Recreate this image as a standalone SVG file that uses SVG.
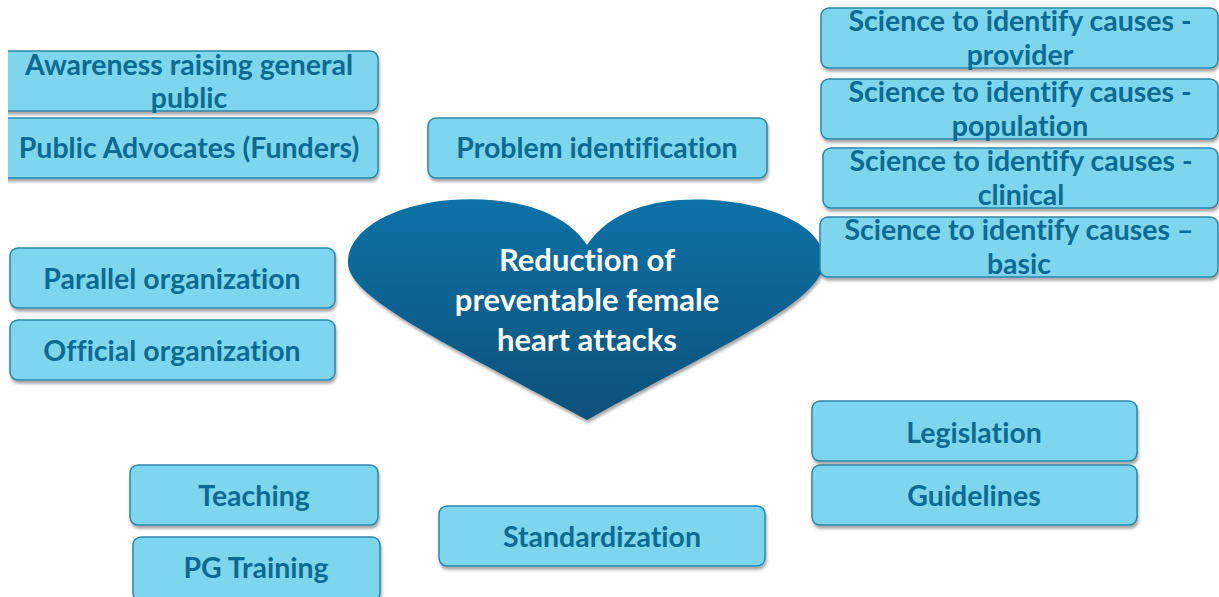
<svg xmlns="http://www.w3.org/2000/svg" width="1219" height="597" viewBox="0 0 1219 597">
  <defs>
    <linearGradient id="heartFill" x1="0" y1="0" x2="0" y2="1">
      <stop offset="0" stop-color="#0a72a6"/>
      <stop offset="1" stop-color="#08507a"/>
    </linearGradient>
    <filter id="shadow" x="-5%" y="-10%" width="110%" height="130%">
      <feDropShadow dx="1" dy="3" stdDeviation="1.5" flood-color="#000" flood-opacity="0.35"/>
    </filter>
    <clipPath id="page">
      <rect x="8" y="0" width="1211" height="597"/>
    </clipPath>
  </defs>
  <style>
    .box { fill: #7dd6ee; stroke: #2b86a8; stroke-width: 1.5; filter: url(#shadow); }
    .lbl { font-family: Lato, "Open Sans", sans-serif; font-weight: bold; font-size: 28.5px; fill: #0f6a90; text-anchor: middle; font-variant-ligatures: none; }
    .hlbl { font-family: Lato, "Open Sans", sans-serif; font-weight: bold; font-size: 31px; fill: #ffffff; text-anchor: middle; font-variant-ligatures: none; }
  </style>
  <rect width="1219" height="597" fill="#ffffff"/>

  <g id="connectors"/>

  <g id="center-heart">
    <path d="M587,245 C562,207 505,196 450,200 C390,205 346,232 348,264 C351,300 450,345 587,420 C722,345 822,302 824,262 C826,230 778,204 712,200 C660,197 612,208 587,245 Z" fill="url(#heartFill)" filter="url(#shadow)"/>
    <text class="hlbl" x="587" y="271">Reduction of</text>
    <text class="hlbl" x="587" y="311">preventable female</text>
    <text class="hlbl" x="587" y="351">heart attacks</text>
  </g>

  <g id="awareness" clip-path="url(#page)">
    <rect class="box" x="-10" y="51" width="388" height="60" rx="8"/>
    <text class="lbl" x="189" y="75">Awareness raising general</text>
    <text class="lbl" x="189" y="108">public</text>
  </g>
  <g id="public-advocates" clip-path="url(#page)">
    <rect class="box" x="-10" y="118" width="388" height="60" rx="8"/>
    <text class="lbl" x="189" y="158">Public Advocates (Funders)</text>
  </g>
  <g id="problem-identification">
    <rect class="box" x="428" y="118" width="339" height="60" rx="8"/>
    <text class="lbl" x="597" y="158">Problem identification</text>
  </g>

  <g id="science-provider">
    <rect class="box" x="821" y="8" width="397" height="60" rx="8"/>
    <text class="lbl" x="1020" y="31">Science to identify causes -</text>
    <text class="lbl" x="1020" y="65">provider</text>
  </g>
  <g id="science-population">
    <rect class="box" x="821" y="79" width="397" height="60" rx="8"/>
    <text class="lbl" x="1020" y="102">Science to identify causes -</text>
    <text class="lbl" x="1020" y="136">population</text>
  </g>
  <g id="science-clinical">
    <rect class="box" x="823" y="148" width="395" height="60" rx="8"/>
    <text class="lbl" x="1021" y="171">Science to identify causes -</text>
    <text class="lbl" x="1021" y="205">clinical</text>
  </g>
  <g id="science-basic">
    <rect class="box" x="820" y="217" width="398" height="60" rx="8"/>
    <text class="lbl" x="1019" y="240">Science to identify causes –</text>
    <text class="lbl" x="1019" y="274">basic</text>
  </g>

  <g id="parallel-organization">
    <rect class="box" x="10" y="248" width="325" height="60" rx="8"/>
    <text class="lbl" x="172" y="289">Parallel organization</text>
  </g>
  <g id="official-organization">
    <rect class="box" x="10" y="320" width="325" height="60" rx="8"/>
    <text class="lbl" x="172" y="361">Official organization</text>
  </g>

  <g id="legislation">
    <rect class="box" x="812" y="401" width="325" height="60" rx="8"/>
    <text class="lbl" x="974" y="443">Legislation</text>
  </g>
  <g id="guidelines">
    <rect class="box" x="812" y="465" width="325" height="60" rx="8"/>
    <text class="lbl" x="974" y="506">Guidelines</text>
  </g>

  <g id="teaching">
    <rect class="box" x="130" y="465" width="248" height="60" rx="8"/>
    <text class="lbl" x="254" y="506">Teaching</text>
  </g>
  <g id="pg-training">
    <rect class="box" x="133" y="537" width="247" height="64" rx="8"/>
    <text class="lbl" x="256" y="578">PG Training</text>
  </g>
  <g id="standardization">
    <rect class="box" x="439" y="506" width="326" height="60" rx="8"/>
    <text class="lbl" x="602" y="547">Standardization</text>
  </g>
</svg>
